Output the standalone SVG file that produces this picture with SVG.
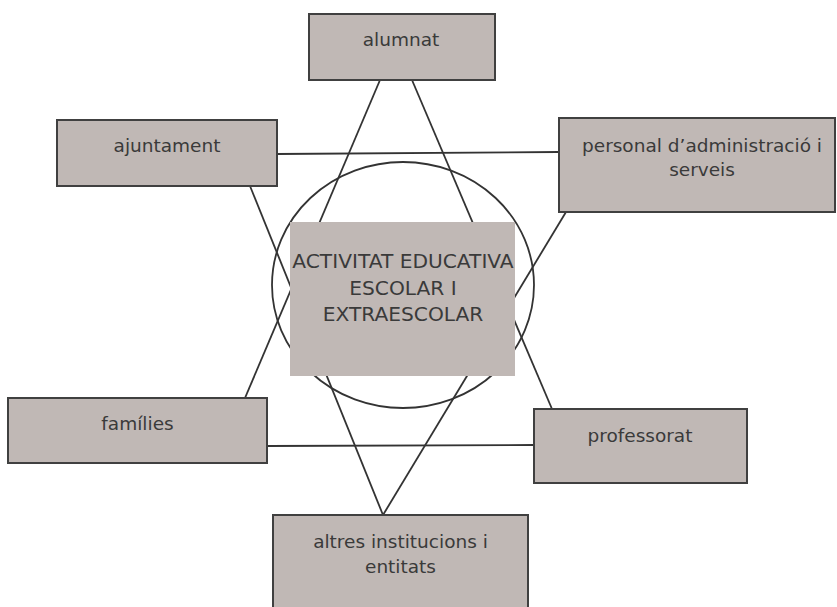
<svg xmlns="http://www.w3.org/2000/svg" width="837" height="607" viewBox="0 0 837 607">
<style>
.box{fill:#c0b8b5;stroke:#404040;stroke-width:2}
.lbl{font-family:"DejaVu Sans",Verdana,sans-serif;font-size:18.5px;fill:#3a3a3a;text-anchor:middle}
.ctr{font-family:"DejaVu Sans",Verdana,sans-serif;font-size:20.2px;fill:#3a3a3a;text-anchor:middle}
.ln{stroke:#333;stroke-width:1.8;fill:none}
</style>
<rect width="837" height="607" fill="#fff"/>
<g id="connectors">
<line class="ln" x1="380" y1="80" x2="245" y2="398"/>
<line class="ln" x1="412" y1="80" x2="552" y2="409"/>
<line class="ln" x1="250" y1="186" x2="383" y2="515"/>
<line class="ln" x1="566" y1="212" x2="383" y2="515"/>
<line class="ln" x1="277" y1="154" x2="559" y2="152"/>
<line class="ln" x1="267" y1="446" x2="534" y2="445"/>
<ellipse class="ln" cx="403" cy="285" rx="131" ry="123"/>
</g>
<g id="alumnat"><rect class="box" x="309" y="14" width="186" height="66"/><text class="lbl" x="401" y="46">alumnat</text></g>
<g id="ajuntament"><rect class="box" x="57" y="120" width="220" height="66"/><text class="lbl" x="167" y="152">ajuntament</text></g>
<g id="personal"><rect class="box" x="559" y="118" width="276" height="94"/><text class="lbl" x="702" y="152">personal d’administració i</text><text class="lbl" x="702" y="176">serveis</text></g>
<g id="activitat"><rect x="290" y="222" width="225" height="154" fill="#c0b8b5"/><text class="ctr" x="403" y="268">ACTIVITAT EDUCATIVA</text><text class="ctr" x="403" y="295">ESCOLAR I</text><text class="ctr" x="403" y="321">EXTRAESCOLAR</text></g>
<g id="families"><rect class="box" x="8" y="398" width="259" height="65"/><text class="lbl" x="137.5" y="430">famílies</text></g>
<g id="professorat"><rect class="box" x="534" y="409" width="213" height="74"/><text class="lbl" x="640" y="442">professorat</text></g>
<g id="altres"><rect class="box" x="273" y="515" width="255" height="100"/><text class="lbl" x="400.5" y="548">altres institucions i</text><text class="lbl" x="400.5" y="573">entitats</text></g>
</svg>
